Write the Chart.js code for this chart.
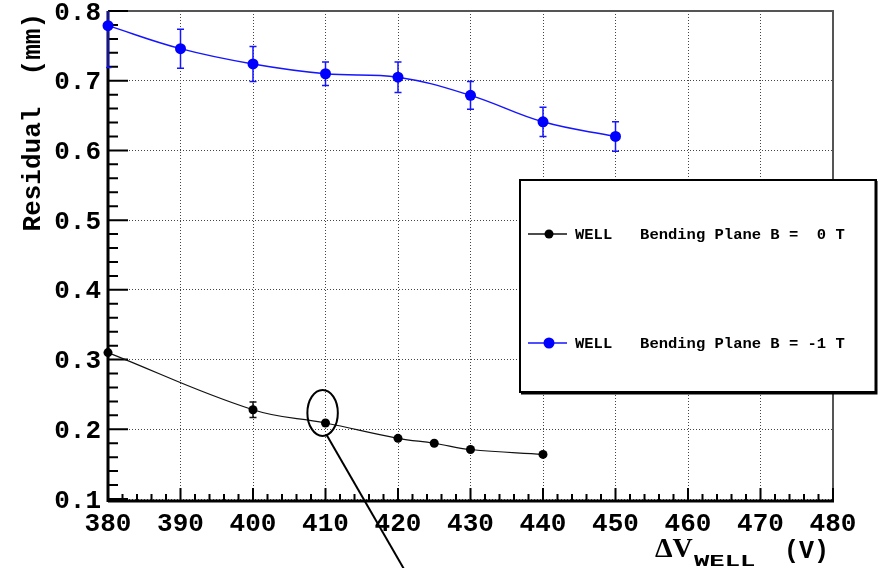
<!DOCTYPE html>
<html>
<head>
<meta charset="utf-8">
<title>Residual vs WELL voltage</title>
<script src="https://cdn.jsdelivr.net/npm/chart.js@4"></script>
<style>
  html, body { margin: 0; padding: 0; background: #fff; }
  canvas { display: block; }
</style>
</head>
<body>
<canvas id="residualChart" width="883" height="568"></canvas>
<script>
// WELL detector residuals, bending plane, B = 0 T
const voltagesB0 = [380, 400, 410, 420, 425, 430, 440];
const residualB0 = [0.310, 0.228, 0.209, 0.187, 0.180, 0.171, 0.164];
const errorB0 = [0, 0.011, 0, 0, 0, 0, 0];

// same, B = -1 T
const voltagesB1 = [380, 390, 400, 410, 420, 430, 440, 450];
const residualB1 = [0.779, 0.746, 0.724, 0.710, 0.705, 0.679, 0.641, 0.620];
const errorB1 = [0.060, 0.028, 0.025, 0.017, 0.022, 0.020, 0.021, 0.021];

const xTicks = [380, 390, 400, 410, 420, 430, 440, 450, 460, 470, 480];
const yTicks = [0.1, 0.2, 0.3, 0.4, 0.5, 0.6, 0.7, 0.8];

const labelB0 = 'WELL   Bending Plane B =  0 T';
const labelB1 = 'WELL   Bending Plane B = -1 T';

// circled point at 410 V and its pointer line (data units)
const callout = { x: 409.6, y: 0.2235, rx: 2.1, ry: 0.033 };
const pointer = { x0: 410.1, y0: 0.193, x1: 420.8, y1: 0.0 };

const mono = 'Liberation Mono, Courier New, monospace';

function points(xs, ys) {
    return xs.map((x, i) => ({ x: x, y: ys[i] }));
}

const residualPlot = {
    id: 'residualPlot',
    beforeDatasetsDraw(chart) {
        const ctx = chart.ctx;
        const a = chart.chartArea;
        const xs = chart.scales.x;
        const ys = chart.scales.y;
        ctx.save();

        // frame: top and right in grey
        ctx.strokeStyle = '#555';
        ctx.lineWidth = 2;
        ctx.beginPath();
        ctx.moveTo(a.left, a.top); ctx.lineTo(a.right, a.top); ctx.lineTo(a.right, a.bottom);
        ctx.stroke();

        // axes in black
        ctx.strokeStyle = '#000';
        ctx.lineWidth = 3;
        ctx.beginPath();
        ctx.moveTo(a.left, a.top); ctx.lineTo(a.left, a.bottom + 3);
        ctx.moveTo(a.left, a.bottom + 2); ctx.lineTo(a.right + 1, a.bottom + 2);
        ctx.stroke();

        // inward ticks, 5 subdivisions per major step
        ctx.lineWidth = 2;
        ctx.beginPath();
        for (let i = 0; i < xTicks.length; i++) {
            const px = xs.getPixelForValue(xTicks[i]);
            ctx.moveTo(px, a.bottom + 2); ctx.lineTo(px, a.bottom - 11);
            if (i < xTicks.length - 1) {
                const step = (xTicks[i + 1] - xTicks[i]) / 5;
                for (let k = 1; k < 5; k++) {
                    const mx = xs.getPixelForValue(xTicks[i] + k * step);
                    ctx.moveTo(mx, a.bottom + 2); ctx.lineTo(mx, a.bottom - 5);
                }
            }
        }
        for (let i = 0; i < yTicks.length; i++) {
            const py = ys.getPixelForValue(yTicks[i]);
            ctx.moveTo(a.left, py); ctx.lineTo(a.left + 20, py);
            if (i < yTicks.length - 1) {
                const step = (yTicks[i + 1] - yTicks[i]) / 5;
                for (let k = 1; k < 5; k++) {
                    const my = ys.getPixelForValue(yTicks[i] + k * step);
                    ctx.moveTo(a.left, my); ctx.lineTo(a.left + 10, my);
                }
            }
        }
        ctx.stroke();

        // tick labels
        ctx.fillStyle = '#000';
        ctx.font = 'bold 26px ' + mono;
        ctx.textAlign = 'center';
        ctx.textBaseline = 'alphabetic';
        xTicks.forEach(v => ctx.fillText(String(v), xs.getPixelForValue(v), a.bottom + 32));
        ctx.textAlign = 'right';
        ctx.textBaseline = 'middle';
        yTicks.forEach(v => ctx.fillText(v.toFixed(1), a.left - 7, ys.getPixelForValue(v) + 2));

        // error bars, kept inside the frame
        ctx.beginPath();
        ctx.rect(a.left - 2, a.top, a.right - a.left + 2, a.bottom - a.top);
        ctx.clip();
        chart.data.datasets.forEach(ds => {
            ctx.strokeStyle = ds.borderColor;
            ctx.lineWidth = 1.5;
            ds.data.forEach((p, i) => {
                const e = ds.errors[i];
                if (!e) return;
                const px = xs.getPixelForValue(p.x);
                const top = ys.getPixelForValue(p.y + e);
                const bot = ys.getPixelForValue(p.y - e);
                ctx.beginPath();
                ctx.moveTo(px, top); ctx.lineTo(px, bot);
                ctx.moveTo(px - 3.5, top); ctx.lineTo(px + 3.5, top);
                ctx.moveTo(px - 3.5, bot); ctx.lineTo(px + 3.5, bot);
                ctx.stroke();
            });
        });
        ctx.restore();
    },
    afterDraw(chart) {
        const ctx = chart.ctx;
        const a = chart.chartArea;
        const xs = chart.scales.x;
        const ys = chart.scales.y;
        ctx.save();

        // legend box
        const lx = 520, ly = 180, lw = 356, lh = 212;
        ctx.fillStyle = '#fff';
        ctx.fillRect(lx, ly, lw, lh);
        ctx.strokeStyle = '#000';
        ctx.lineWidth = 2;
        ctx.strokeRect(lx, ly, lw, lh);
        ctx.lineWidth = 3;
        ctx.beginPath();
        ctx.moveTo(lx + lw, ly + 1); ctx.lineTo(lx + lw, ly + lh + 1); ctx.lineTo(lx + 1, ly + lh + 1);
        ctx.stroke();
        const rows = [ly + 54, ly + 163];
        chart.data.datasets.forEach((ds, i) => {
            const ry = rows[i];
            ctx.strokeStyle = ds.borderColor;
            ctx.lineWidth = 1.3;
            ctx.beginPath();
            ctx.moveTo(lx + 8, ry); ctx.lineTo(lx + 47, ry);
            ctx.stroke();
            ctx.fillStyle = ds.pointBackgroundColor;
            ctx.beginPath();
            ctx.arc(lx + 29, ry, ds.pointRadius, 0, Math.PI * 2);
            ctx.fill();
            ctx.fillStyle = '#000';
            ctx.font = 'bold 15.5px ' + mono;
            ctx.textAlign = 'left';
            ctx.textBaseline = 'middle';
            ctx.fillText(ds.label, lx + 55, ry + 1);
        });

        // callout ellipse and pointer line
        ctx.strokeStyle = '#000';
        ctx.lineWidth = 2;
        const cx = xs.getPixelForValue(callout.x);
        const cy = ys.getPixelForValue(callout.y);
        const rx = Math.abs(xs.getPixelForValue(callout.x + callout.rx) - cx);
        const ry = Math.abs(ys.getPixelForValue(callout.y + callout.ry) - cy);
        ctx.beginPath();
        ctx.ellipse(cx, cy, rx, ry, 0, 0, Math.PI * 2);
        ctx.stroke();
        ctx.beginPath();
        ctx.moveTo(xs.getPixelForValue(pointer.x0), ys.getPixelForValue(pointer.y0));
        ctx.lineTo(xs.getPixelForValue(pointer.x1), ys.getPixelForValue(pointer.y1));
        ctx.stroke();

        // y title
        ctx.fillStyle = '#000';
        ctx.save();
        ctx.translate(33, a.top + 2);
        ctx.rotate(-Math.PI / 2);
        ctx.font = 'bold 26px ' + mono;
        ctx.textAlign = 'right';
        ctx.textBaseline = 'middle';
        ctx.fillText('Residual  (mm)', 0, 0);
        ctx.restore();

        // x title: ΔV with a wide WELL subscript, then unit
        ctx.textAlign = 'left';
        ctx.textBaseline = 'alphabetic';
        ctx.font = 'bold 28px Liberation Serif, serif';
        ctx.fillText('ΔV', 655, 557);
        ctx.save();
        ctx.translate(694, 566);
        ctx.scale(1.6, 1);
        ctx.font = 'bold 16px ' + mono;
        ctx.fillText('WELL', 0, 0);
        ctx.restore();
        ctx.font = 'bold 25px ' + mono;
        ctx.textAlign = 'right';
        ctx.fillText('(V)', a.right - 4, 558);

        ctx.restore();
    }
};

new Chart(document.getElementById('residualChart'), {
    type: 'line',
    data: {
        datasets: [{
            label: labelB0,
            data: points(voltagesB0, residualB0),
            errors: errorB0,
            borderColor: '#111',
            borderWidth: 1.2,
            pointBackgroundColor: '#000',
            pointBorderWidth: 0,
            pointRadius: 4.5,
            tension: 0.4,
            clip: false
        }, {
            label: labelB1,
            data: points(voltagesB1, residualB1),
            errors: errorB1,
            borderColor: '#1515ff',
            borderWidth: 1.5,
            pointBackgroundColor: '#0000ff',
            pointBorderWidth: 0,
            pointRadius: 5.5,
            tension: 0.4,
            clip: false
        }]
    },
    options: {
        responsive: false,
        animation: false,
        layout: { padding: { top: 11, right: 50, bottom: 0, left: 0 } },
        plugins: {
            legend: { display: false },
            tooltip: { enabled: false }
        },
        scales: {
            x: {
                type: 'linear',
                position: 'bottom',
                min: 380,
                max: 480,
                afterBuildTicks: scale => { scale.ticks = xTicks.map(v => ({ value: v })); },
                afterFit: scale => { scale.height = 69; },
                ticks: { display: false },
                grid: { color: '#444', lineWidth: 1, drawTicks: false },
                border: { display: false, dash: [1, 2] }
            },
            y: {
                type: 'linear',
                min: 0.1,
                max: 0.8,
                afterBuildTicks: scale => { scale.ticks = yTicks.map(v => ({ value: v })); },
                afterFit: scale => { scale.width = 108; },
                ticks: { display: false },
                grid: { color: '#444', lineWidth: 1, drawTicks: false },
                border: { display: false, dash: [1, 2] }
            }
        }
    },
    plugins: [residualPlot]
});
</script>
</body>
</html>
